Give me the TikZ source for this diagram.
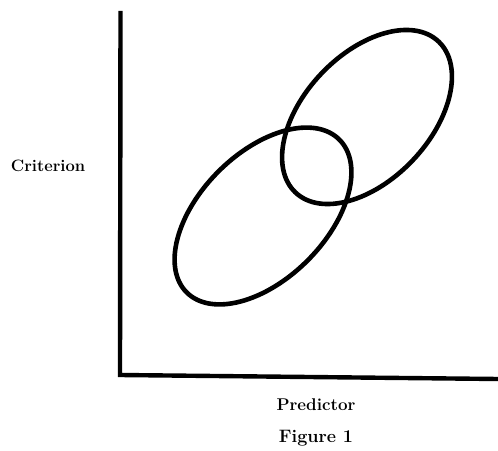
\documentclass[tikz,border=0pt]{standalone}
\begin{document}
\begin{tikzpicture}[x=1pt,y=1pt,
  curve/.style={line width=4.6pt},
  axis/.style={line width=4.4pt, line cap=butt},
  lbl/.style={inner sep=0pt}]
\useasboundingbox (0,0) rectangle (498,450);
\coordinate (top) at (120.5,439);
\coordinate (origin) at (120,75);
\coordinate (right) at (498,71);
\draw[axis] (top) -- (origin) -- (right);
\draw[curve, rotate around={45:(263,234)}] (263,234) ellipse [x radius=108, y radius=63];
\draw[curve, rotate around={46.5:(367,333)}] (367,333) ellipse [x radius=104, y radius=63];
\node[lbl, font=\fontsize{16.5}{18}\selectfont\bfseries] (crit) at (48,284) {Criterion};
\node[lbl, font=\fontsize{17}{19}\selectfont\bfseries] (pred) at (316,45) {Predictor};
\node[lbl, font=\fontsize{18}{20}\selectfont\bfseries] (fig) at (316,12) {Figure 1};
\end{tikzpicture}
\end{document}
